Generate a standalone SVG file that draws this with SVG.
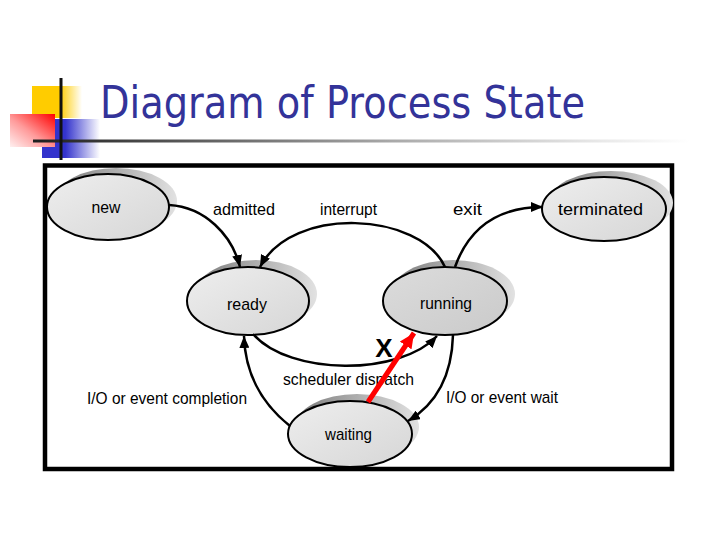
<svg xmlns="http://www.w3.org/2000/svg" width="720" height="540" viewBox="0 0 720 540">
<defs>
<style>
.lbl{font-family:"Liberation Sans",Arial,sans-serif;font-size:17px;fill:#000;text-anchor:middle}
.node{stroke:#000;stroke-width:2;fill:url(#nodeFill)}
.shadow{fill:url(#shadowFill)}
.conn{fill:none;stroke:#000;stroke-width:2.5;marker-end:url(#arrow)}
</style>
<linearGradient id="nodeFill" x1="0" y1="0" x2="1" y2="1">
<stop offset="0" stop-color="#eeeeee"/>
<stop offset="1" stop-color="#d6d6d6"/>
</linearGradient>
<linearGradient id="nodeFillDark" x1="0" y1="0" x2="1" y2="1">
<stop offset="0" stop-color="#dcdcdc"/>
<stop offset="1" stop-color="#cacaca"/>
</linearGradient>
<linearGradient id="shadowFill" x1="0" y1="0" x2="1" y2="0">
<stop offset="0" stop-color="#7a7a7a"/>
<stop offset="0.6" stop-color="#b8b8b8"/>
<stop offset="1" stop-color="#e2e2e2"/>
</linearGradient>
<linearGradient id="underline" x1="33" y1="0" x2="690" y2="0" gradientUnits="userSpaceOnUse">
<stop offset="0" stop-color="#1e1e1e"/>
<stop offset="0.55" stop-color="#aaaaaa"/>
<stop offset="0.85" stop-color="#e6e6e6"/>
<stop offset="1" stop-color="#ffffff"/>
</linearGradient>
<linearGradient id="yellowG" x1="0" y1="0" x2="1" y2="0">
<stop offset="0" stop-color="#ffcc00"/>
<stop offset="0.55" stop-color="#ffcc00"/>
<stop offset="1" stop-color="#ffcc00" stop-opacity="0"/>
</linearGradient>
<linearGradient id="blueG" x1="0" y1="0" x2="1" y2="0">
<stop offset="0" stop-color="#3333cc"/>
<stop offset="0.4" stop-color="#3333cc"/>
<stop offset="1" stop-color="#3333cc" stop-opacity="0"/>
</linearGradient>
<linearGradient id="redG" x1="1" y1="0" x2="0" y2="1">
<stop offset="0" stop-color="#ff0000"/>
<stop offset="0.55" stop-color="#ff9a9a"/>
<stop offset="1" stop-color="#fff0f0"/>
</linearGradient>
<marker id="arrow" markerUnits="userSpaceOnUse" markerWidth="13" markerHeight="10" refX="12" refY="5" orient="auto">
<path d="M0,0 L12,5 L0,10 z" fill="#000"/>
</marker>
<marker id="arrowRed" markerUnits="userSpaceOnUse" markerWidth="16" markerHeight="14" refX="15" refY="7" orient="auto">
<path d="M0,0 L15,7 L0,14 z" fill="#ff0000"/>
</marker>
</defs>

<rect width="720" height="540" fill="#ffffff"/>

<g id="title-decoration">
<rect x="32" y="86" width="50" height="32" fill="url(#yellowG)"/>
<rect x="42" y="119" width="58" height="39" fill="url(#blueG)"/>
<rect x="10" y="114" width="45" height="33" fill="url(#redG)"/>
<rect x="33" y="139.5" width="657" height="3" fill="url(#underline)"/>
<rect x="59.5" y="78" width="3" height="82" fill="#111"/>
</g>

<text id="title" x="100" y="118" font-family="'DejaVu Sans',Verdana,sans-serif" font-size="45" fill="#333399" textLength="485" lengthAdjust="spacingAndGlyphs">Diagram of Process State</text>

<rect id="frame" x="45" y="165.5" width="627" height="303.5" fill="none" stroke="#000" stroke-width="4.5"/>

<g id="node-new">
<ellipse class="shadow" cx="116" cy="201" rx="61" ry="33"/>
<ellipse class="node" cx="108" cy="207" rx="61" ry="33"/>
<text class="lbl" x="106" y="213" textLength="29" lengthAdjust="spacingAndGlyphs">new</text>
</g>

<g id="node-ready">
<ellipse class="shadow" cx="256" cy="294" rx="61" ry="34"/>
<ellipse class="node" cx="248" cy="301" rx="61" ry="34"/>
<text class="lbl" x="247" y="310" textLength="40" lengthAdjust="spacingAndGlyphs">ready</text>
</g>

<g id="node-running">
<ellipse class="shadow" cx="453" cy="294" rx="62" ry="34"/>
<ellipse class="node" cx="445" cy="301" rx="62" ry="34" style="fill:url(#nodeFillDark)"/>
<text class="lbl" x="446" y="309" textLength="52" lengthAdjust="spacingAndGlyphs">running</text>
</g>

<g id="node-terminated">
<ellipse class="shadow" cx="611" cy="203" rx="62" ry="32"/>
<ellipse class="node" cx="604" cy="209" rx="62" ry="32"/>
<text class="lbl" x="600.5" y="215" textLength="85" lengthAdjust="spacingAndGlyphs">terminated</text>
</g>

<g id="node-waiting">
<ellipse class="shadow" cx="357" cy="427" rx="62" ry="33"/>
<ellipse class="node" cx="350" cy="434" rx="62" ry="33"/>
<text class="lbl" x="348.5" y="440" textLength="47" lengthAdjust="spacingAndGlyphs">waiting</text>
</g>

<g id="connectors">
<path class="conn" d="M169,205 C205,207 232,235 240,267"/>
<path class="conn" d="M445,267 C420,212 292,205 260,267"/>
<path class="conn" d="M455,267 C470,225 500,207 543,207"/>
<path class="conn" d="M253,334 C290,376 400,376 437,336"/>
<path class="conn" d="M290,426 C260,402 245,372 244,336"/>
<path class="conn" d="M453,335 C452,370 440,402 408,421"/>
</g>

<g id="labels">
<text class="lbl" x="244" y="215" textLength="62" lengthAdjust="spacingAndGlyphs">admitted</text>
<text class="lbl" x="348.5" y="215" textLength="57" lengthAdjust="spacingAndGlyphs">interrupt</text>
<text class="lbl" x="467.5" y="215" textLength="29" lengthAdjust="spacingAndGlyphs">exit</text>
<text class="lbl" x="348.5" y="385" textLength="131" lengthAdjust="spacingAndGlyphs">scheduler dispatch</text>
<text class="lbl" x="167" y="404" textLength="160" lengthAdjust="spacingAndGlyphs">I/O or event completion</text>
<text class="lbl" x="502" y="403" textLength="112" lengthAdjust="spacingAndGlyphs">I/O or event wait</text>
<text x="384" y="357" font-family="'Liberation Sans',Arial,sans-serif" font-size="26" font-weight="bold" text-anchor="middle" fill="#000">X</text>
</g>

<g id="blocked-transition">
<path d="M368,402 L414,333" fill="none" stroke="#ff0000" stroke-width="5" marker-end="url(#arrowRed)"/>
</g>
</svg>
